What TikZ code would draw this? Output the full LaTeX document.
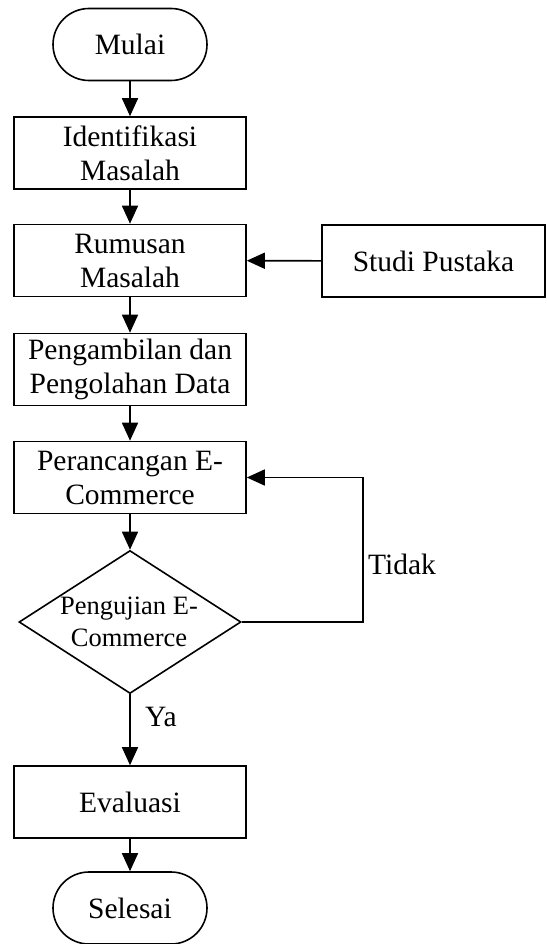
\documentclass[tikz,border=0pt]{standalone}
\usepackage{fontspec}
\setmainfont{Liberation Serif}
\usetikzlibrary{shapes.geometric,arrows.meta}
\begin{document}
\begin{tikzpicture}[x=1pt,y=-1pt,
  base/.style={draw=black,line width=1.6pt,inner sep=0pt,align=center,font=\fontsize{29.5}{34}\selectfont},
  procbox/.style={base,rectangle,minimum width=232pt,minimum height=72pt},
  terminal/.style={base,rectangle,rounded corners=36pt,minimum width=154pt,minimum height=72pt},
  decision/.style={draw=black,line width=1.6pt,diamond,inner sep=0pt,minimum width=222pt,minimum height=143pt,aspect=1.55},
  flow/.style={line width=1.6pt,-{Triangle[width=16pt,length=18pt]}},
  lbl/.style={inner sep=0pt,anchor=base west,font=\fontsize{29.5}{34}\selectfont}]
\useasboundingbox (0,0) rectangle (546,944);
\node[terminal] (mulai) at (130,44.5) {Mulai};
\node[procbox] (ident) at (130,153) {Identifikasi\\Masalah};
\node[procbox] (rumus) at (130,260.5) {Rumusan\\Masalah};
\node[procbox,minimum width=223pt] (studi) at (433.5,261) {Studi Pustaka};
\node[procbox] (ambil) at (130,369.5) {Pengambilan dan\\Pengolahan Data};
\node[procbox] (ranc) at (130,477.5) {Perancangan E-\\Commerce};
\node[decision] (uji) at (130,622) {};
\node[inner sep=0pt,align=center,font=\fontsize{26.5}{32}\selectfont] (ujitext) at (129,622) {Pengujian E-\\Commerce};
\node[procbox] (eval) at (130,802) {Evaluasi};
\node[terminal] (selesai) at (130,908) {Selesai};
\coordinate (loop) at (363,622);
\draw[flow] (mulai) -- (ident);
\draw[flow] (ident) -- (rumus);
\draw[flow] (studi) -- (rumus);
\draw[flow] (rumus) -- (ambil);
\draw[flow] (ambil) -- (ranc);
\draw[flow] (ranc.south) -- (uji.north);
\draw[flow] (uji.east) -- (loop) |- (ranc.east);
\draw[flow] (uji.south) -- (eval.north);
\draw[flow] (eval) -- (selesai);
\node[lbl] (tidak) at (368,574) {Tidak};
\node[lbl] (ya) at (145,726) {Ya};
\end{tikzpicture}
\end{document}
